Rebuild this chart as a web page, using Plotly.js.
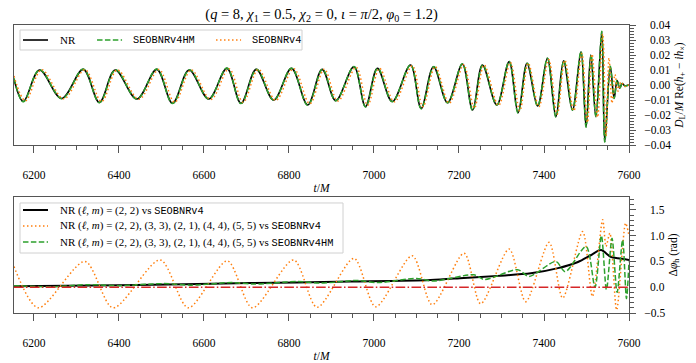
<!DOCTYPE html>
<html>
<head>
<meta charset="utf-8">
<script src="https://cdn.plot.ly/plotly-3.0.1.min.js"></script>
<style>
  html, body { margin: 0; padding: 0; background: #fff; }
  #plot { width: 696px; height: 363px; }
</style>
</head>
<body>
<div id="plot"></div>
<script>
// top panel: strain extrema (t/M, D_L/M Re(h+ - i hx))
var nrT = [6153, 6175, 6213, 6265, 6316, 6354, 6391, 6442, 6489, 6526, 6565, 6611, 6654, 6687, 6723, 6764, 6806, 6844, 6878, 6910, 6953, 6980, 7008, 7043, 7086, 7111, 7140, 7173, 7208, 7232, 7255, 7289, 7318, 7339, 7360, 7385, 7408, 7428, 7446, 7467, 7487, 7499, 7510, 7522, 7536, 7543, 7556, 7565, 7572, 7578, 7584, 7590, 7600];
var nrH = [0.004, -0.011, 0.010, -0.009, 0.0104, -0.0116, 0.010, -0.0093, 0.0104, -0.0122, 0.010, -0.0093, 0.0111, -0.0122, 0.0104, -0.010, 0.0111, -0.0133, 0.0104, -0.0104, 0.0122, -0.0144, 0.0111, -0.011, 0.0133, -0.0156, 0.0122, -0.0118, 0.014, -0.0167, 0.0133, -0.0133, 0.0156, -0.0185, 0.0144, -0.014, 0.0178, -0.0211, 0.0162, -0.0167, 0.0222, -0.0278, 0.020, -0.021, 0.0355, -0.0378, 0.012, -0.0087, 0.003, -0.002, 0.001, -0.0005, 0];

var hmT = [6153, 6175, 6213, 6266, 6316, 6354, 6392, 6442, 6489, 6526, 6566, 6611, 6654, 6687, 6724, 6764, 6806, 6844, 6879, 6910, 6953, 6980, 7009, 7043, 7086, 7111, 7141, 7173, 7208, 7232, 7256, 7289, 7318, 7339, 7361, 7385, 7408, 7428, 7447, 7467, 7487, 7499, 7511, 7522, 7536, 7543, 7556, 7565, 7572, 7578, 7584, 7590, 7600];
var hmH = [0.0045, -0.0112, 0.0102, -0.0091, 0.0106, -0.0118, 0.0101, -0.0094, 0.0106, -0.0124, 0.0101, -0.0094, 0.0113, -0.0124, 0.0105, -0.0101, 0.0112, -0.0135, 0.0105, -0.0105, 0.0123, -0.0146, 0.0112, -0.0111, 0.0134, -0.0158, 0.0123, -0.0119, 0.0141, -0.0169, 0.0134, -0.0134, 0.0157, -0.0188, 0.0145, -0.0141, 0.0179, -0.0214, 0.0163, -0.0168, 0.0224, -0.0282, 0.0201, -0.0212, 0.0358, -0.038, 0.0125, -0.009, 0.0035, -0.0025, 0.0012, -0.0006, 0];

var v4T = [6153, 6180, 6218, 6270, 6320, 6359, 6396, 6447, 6494, 6531, 6570, 6616, 6659, 6692, 6728, 6769, 6811, 6849, 6883, 6915, 6958, 6985, 7013, 7048, 7090, 7115, 7144, 7177, 7211, 7236, 7259, 7293, 7321, 7343, 7363, 7388, 7411, 7431, 7449, 7470, 7489, 7502, 7513, 7526, 7538, 7546, 7553, 7560, 7567, 7574, 7581, 7590, 7600];
var v4H = [0.006, -0.0105, 0.0102, -0.0092, 0.0102, -0.011, 0.0101, -0.0095, 0.0103, -0.0115, 0.0101, -0.0096, 0.0108, -0.0115, 0.0104, -0.0102, 0.0109, -0.0125, 0.0105, -0.0106, 0.0118, -0.0135, 0.0111, -0.0112, 0.0128, -0.0145, 0.0122, -0.0121, 0.0135, -0.0155, 0.0133, -0.0136, 0.015, -0.0172, 0.0146, -0.0145, 0.017, -0.0195, 0.0165, -0.0172, 0.021, -0.025, 0.0205, -0.0215, 0.034, -0.034, 0.018, -0.012, 0.007, -0.004, 0.002, -0.001, 0];

// bottom panel: phase differences (rad)
var ph22T = [6153, 6400, 6709, 6945, 7133, 7211, 7291, 7369, 7433, 7480, 7510, 7534, 7557, 7574, 7600];
var ph22 = [0.02, 0.04, 0.08, 0.11, 0.14, 0.18, 0.22, 0.27, 0.37, 0.49, 0.62, 0.72, 0.59, 0.56, 0.53];

var phV4T = [6153, 6210, 6320, 6386, 6497, 6563, 6655, 6714, 6811, 6866, 6953, 7004, 7090, 7137, 7212, 7251, 7318, 7357, 7412, 7444, 7491, 7514, 7538, 7546, 7555, 7571, 7592, 7600];
var phV4 = [0.40, -0.40, 0.50, -0.40, 0.53, -0.40, 0.51, -0.40, 0.53, -0.39, 0.56, -0.38, 0.61, -0.34, 0.66, -0.32, 0.74, -0.28, 0.87, -0.21, 1.08, -0.18, 1.31, 0.79, 1.05, -0.44, 1.24, 1.0];

var phHMT = [6153, 6240, 6330, 6400, 6505, 6570, 6665, 6720, 6820, 6875, 6960, 7010, 7100, 7140, 7235, 7260, 7338, 7365, 7428, 7450, 7499, 7520, 7535, 7547, 7560, 7572, 7585, 7594, 7600];
var phHM = [0.03, 0.01, 0.05, 0.03, 0.07, 0.04, 0.09, 0.06, 0.11, 0.08, 0.13, 0.09, 0.17, 0.12, 0.24, 0.15, 0.34, 0.21, 0.50, 0.30, 0.79, 0.0, 1.0, -0.05, 0.95, -0.1, 0.92, -0.22, 0.5];

var zeroT = [6153, 7600];
var zeroPh = [0, 0];

var tRange = [6153, 7600];
var topTicks = [-0.04, -0.03, -0.02, -0.01, 0, 0.01, 0.02, 0.03, 0.04];
var topLabels = ['\u22120.04', '\u22120.03', '\u22120.02', '\u22120.01', '\u20020.00', '\u20020.01', '\u20020.02', '\u20020.03', '\u20020.04'];
var botTicks = [-0.5, 0, 0.5, 1.0, 1.5];
var botLabels = ['\u22120.5', '\u20020.0', '\u20020.5', '\u20021.0', '\u20021.5'];

var mono = "<span style='font-family:Liberation Mono;font-size:10.3px'>";
var lm = "NR (<i>\u2113</i>, <i>m</i>) = ";
var topNames = ['NR', mono + 'SEOBNRv4HM</span>', mono + 'SEOBNRv4</span>'];
var topLines = [
  {color: '#000000', width: 1.6},
  {color: '#2ca02c', width: 1.5, dash: '5.5px,2.4px'},
  {color: '#ff7f0e', width: 1.5, dash: '1.5px,2.5px'}
];
var botNames = [
  lm + '(2, 2) vs ' + mono + 'SEOBNRv4</span>',
  lm + '(2, 2), (3, 3), (2, 1), (4, 4), (5, 5) vs ' + mono + 'SEOBNRv4</span>',
  lm + '(2, 2), (3, 3), (2, 1), (4, 4), (5, 5) vs ' + mono + 'SEOBNRv4HM</span>'
];
var botLines = [
  {color: '#000000', width: 2},
  {color: '#ff7f0e', width: 1.5, dash: '1.5px,2.5px'},
  {color: '#2ca02c', width: 1.5, dash: '5.5px,2.4px'}
];

function wave(x, y, i, ax) {
  return {x: x, y: y, type: 'scatter', mode: 'lines', showlegend: false,
          name: (ax === 1 ? topNames : botNames)[i],
          line: Object.assign({shape: 'spline', smoothing: ax === 1 ? 1 : 0.8}, (ax === 1 ? topLines : botLines)[i]),
          xaxis: ax === 1 ? 'x' : 'x2', yaxis: ax === 1 ? 'y' : 'y2'};
}

var traces = [
  wave(nrT, nrH, 0, 1),
  wave(hmT, hmH, 1, 1),
  wave(v4T, v4H, 2, 1),
  wave(ph22T, ph22, 0, 2),
  wave(phV4T, phV4, 1, 2),
  wave(phHMT, phHM, 2, 2),
  {x: zeroT, y: zeroPh, type: 'scatter', mode: 'lines', showlegend: false,
   line: {color: '#d62728', width: 1.5, dash: '9.6px,2.4px,1.5px,2.4px'}, xaxis: 'x2', yaxis: 'y2'}
];

// hand-built legends (matplotlib-like spacing), paper coords of the plot area
var shapes = [], annotations = [];
function legendBox(x0, x1, y0, y1) {
  shapes.push({type: 'rect', xref: 'paper', yref: 'paper', x0: x0, x1: x1, y0: y0, y1: y1,
               fillcolor: 'rgba(255,255,255,0.85)', line: {color: '#d0d0d0', width: 1}, layer: 'above'});
}
function legendItem(xs, xt, yy, lineStyle, text) {
  shapes.push({type: 'line', xref: 'paper', yref: 'paper', x0: xs, x1: xs + 0.0407, y0: yy, y1: yy,
               line: lineStyle, layer: 'above'});
  annotations.push({xref: 'paper', yref: 'paper', x: xt, y: yy, xanchor: 'left', yanchor: 'middle',
                    showarrow: false, text: text, font: {size: 11}});
}

legendBox(0.0098, 0.4683, 0.9132, 0.9826);
var topSampleX = [0.0146, 0.1350, 0.3285];
var topTextX = [0.0715, 0.1902, 0.3837];
for (var i = 0; i < 3; i++) legendItem(topSampleX[i], topTextX[i], 0.9479, topLines[i], topNames[i]);

legendBox(0.0098, 0.535, 0.2083, 0.382);
var botRowY = [0.3576, 0.3021, 0.2465];
for (var j = 0; j < 3; j++) legendItem(0.0146, 0.0715, botRowY[j], botLines[j], botNames[j]);

var axCol = '#555555';
function xax(anchor) {
  return {
    anchor: anchor, domain: [0, 1], range: tRange, tick0: 6200, dtick: 200,
    ticks: 'outside', ticklen: 7, tickcolor: axCol, tickwidth: 1,
    minor: {dtick: 50, ticks: 'outside', ticklen: 3.5, tickcolor: axCol, showgrid: false},
    showline: true, linecolor: axCol, linewidth: 1, mirror: true,
    showgrid: false, zeroline: false, ticklabelstandoff: 12,
    tickfont: {size: 11.5},
    title: {text: '<i>t</i>/<i>M</i>', standoff: 4, font: {size: 11.5}}
  };
}
function yax(anchor, domain, range, vals, labels, minorStep, title) {
  return {
    domain: domain, anchor: anchor, side: 'right', range: range,
    tickvals: vals, ticktext: labels, tickfont: {size: 11.5},
    ticks: 'outside', ticklen: 6, tickcolor: axCol,
    minor: {dtick: minorStep, ticks: 'outside', ticklen: 3.5, tickcolor: axCol, showgrid: false},
    showline: true, linecolor: axCol, mirror: true, showgrid: false, zeroline: false,
    ticklabelstandoff: 6,
    title: {text: title, standoff: 4, font: {size: 11.5}}
  };
}

var layout = {
  width: 696, height: 363,
  margin: {l: 14, r: 67, t: 25, b: 50},
  paper_bgcolor: '#ffffff', plot_bgcolor: '#ffffff',
  font: {family: 'Liberation Serif, Times New Roman, serif', size: 11, color: '#000'},
  title: {
    text: '(<i>q</i> = 8, <i>\u03c7</i><sub>1</sub> = 0.5, <i>\u03c7</i><sub>2</sub> = 0, <i>\u03b9</i> = <i>\u03c0</i>/2, <i>\u03c6</i><sub>0</sub> = 1.2)',
    font: {size: 14.5}, x: 0.5, xref: 'paper', y: 1 - 14 / 363, yref: 'container', yanchor: 'middle'
  },
  showlegend: false,
  shapes: shapes,
  annotations: annotations,
  xaxis: xax('y'),
  xaxis2: xax('y2'),
  yaxis: yax('x', [0.5833, 1], [-0.04, 0.04], topTicks, topLabels, 0.002,
             '<i>D</i><sub>L</sub>/<i>M</i> Re(<i>h</i><sub>+</sub> \u2212 <i>ih</i><sub>\u00d7</sub>)'),
  yaxis2: yax('x2', [0, 0.4028], [-0.5, 1.75], botTicks, botLabels, 0.1,
              '\u0394<i>\u03c6</i><sub>h</sub> (rad)')
};

Plotly.newPlot('plot', traces, layout, {displayModeBar: false, staticPlot: true});
</script>
</body>
</html>
